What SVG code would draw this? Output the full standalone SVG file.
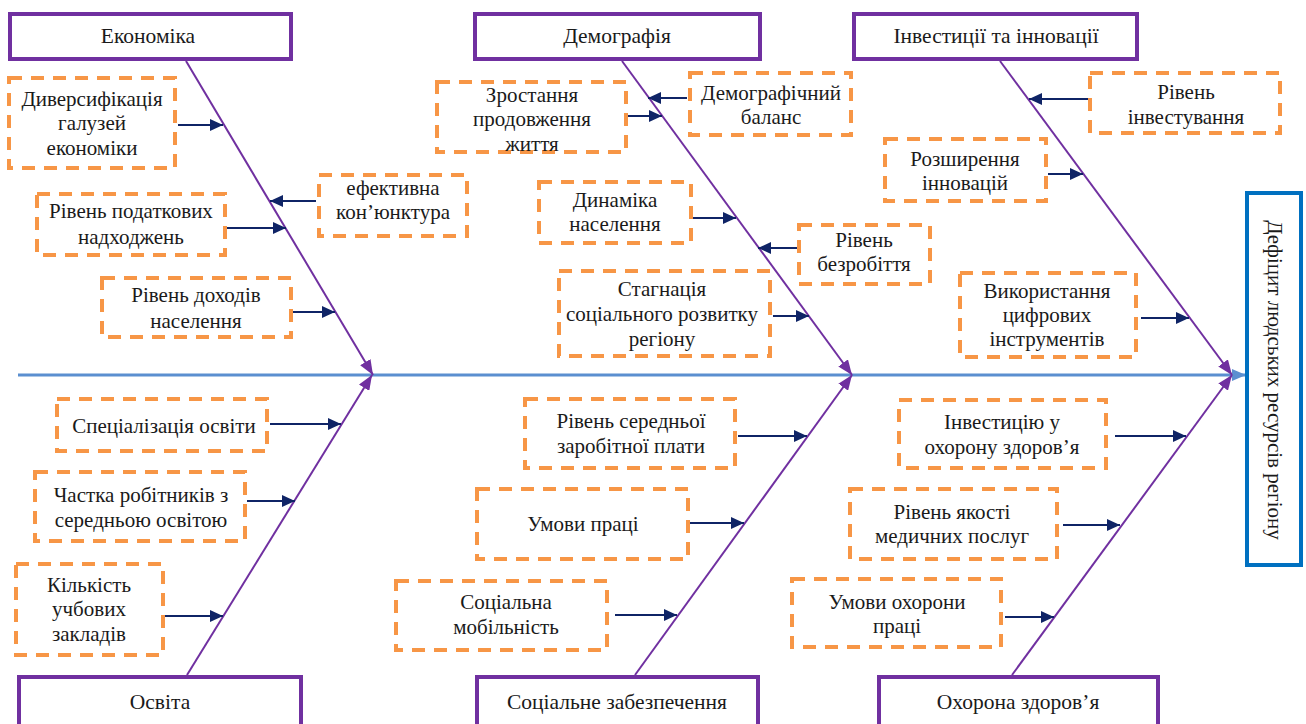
<svg xmlns="http://www.w3.org/2000/svg" width="1306" height="724" viewBox="0 0 1306 724">
<style>
.cat{fill:#fff;stroke:#7030a0;stroke-width:4}
.sub{fill:#fff;stroke:#f79646;stroke-width:4;stroke-dasharray:13 9}
.t{font-family:"Liberation Serif","DejaVu Serif","Noto Serif",serif;font-size:21px;fill:#1a1a1a;text-anchor:middle}
.c{font-size:21.5px}
.bone{stroke:#7030a0;stroke-width:2;fill:none}
.ar{stroke:#0f2466;stroke-width:2.2;fill:none}
</style>
<defs>
<marker id="ah" markerUnits="userSpaceOnUse" markerWidth="13" markerHeight="12" refX="13" refY="6" orient="auto"><path d="M0,0 L13,6 L0,12 Z" fill="#0f2466"/></marker>
<marker id="ph" markerUnits="userSpaceOnUse" markerWidth="15" markerHeight="12" refX="15" refY="6" orient="auto"><path d="M0,0 L15,6 L0,12 Z" fill="#7030a0"/></marker>
<marker id="bh" markerUnits="userSpaceOnUse" markerWidth="14" markerHeight="12" refX="14" refY="6" orient="auto"><path d="M0,0 L14,6 L0,12 Z" fill="#5b8fd0"/></marker>
</defs>
<rect width="1306" height="724" fill="#fff"/>

<g id="connectors">
<line x1="18" y1="375" x2="1246" y2="375" stroke="#5b8fd0" stroke-width="3" marker-end="url(#bh)"/>
<line class="bone" x1="186" y1="61" x2="373" y2="375" marker-end="url(#ph)"/>
<line class="bone" x1="622" y1="61" x2="852" y2="375" marker-end="url(#ph)"/>
<line class="bone" x1="1000" y1="61" x2="1232" y2="375" marker-end="url(#ph)"/>
<line class="bone" x1="187" y1="675" x2="372" y2="375" marker-end="url(#ph)"/>
<line class="bone" x1="635" y1="675" x2="852" y2="375" marker-end="url(#ph)"/>
<line class="bone" x1="1012" y1="675" x2="1232" y2="375" marker-end="url(#ph)"/>
<line class="ar" x1="178" y1="125" x2="223" y2="125" marker-end="url(#ah)"/>
<line class="ar" x1="227" y1="228" x2="286" y2="228" marker-end="url(#ah)"/>
<line class="ar" x1="293" y1="312" x2="335" y2="312" marker-end="url(#ah)"/>
<line class="ar" x1="316" y1="201" x2="270" y2="201" marker-end="url(#ah)"/>
<line class="ar" x1="628" y1="116" x2="662" y2="116" marker-end="url(#ah)"/>
<line class="ar" x1="687" y1="98" x2="648" y2="98" marker-end="url(#ah)"/>
<line class="ar" x1="693" y1="218" x2="736" y2="218" marker-end="url(#ah)"/>
<line class="ar" x1="797" y1="248" x2="758" y2="248" marker-end="url(#ah)"/>
<line class="ar" x1="773" y1="316" x2="809" y2="316" marker-end="url(#ah)"/>
<line class="ar" x1="1088" y1="99" x2="1029" y2="99" marker-end="url(#ah)"/>
<line class="ar" x1="1048" y1="174" x2="1083" y2="174" marker-end="url(#ah)"/>
<line class="ar" x1="1141" y1="318" x2="1189" y2="318" marker-end="url(#ah)"/>
<line class="ar" x1="270" y1="424" x2="341" y2="424" marker-end="url(#ah)"/>
<line class="ar" x1="247" y1="501" x2="295" y2="501" marker-end="url(#ah)"/>
<line class="ar" x1="165" y1="616" x2="223" y2="616" marker-end="url(#ah)"/>
<line class="ar" x1="738" y1="436" x2="807" y2="436" marker-end="url(#ah)"/>
<line class="ar" x1="690" y1="523" x2="744" y2="523" marker-end="url(#ah)"/>
<line class="ar" x1="615" y1="615" x2="677" y2="615" marker-end="url(#ah)"/>
<line class="ar" x1="1115" y1="436" x2="1186" y2="436" marker-end="url(#ah)"/>
<line class="ar" x1="1063" y1="525" x2="1120" y2="525" marker-end="url(#ah)"/>
<line class="ar" x1="1005" y1="617" x2="1054" y2="617" marker-end="url(#ah)"/>
</g>

<g id="economika"><rect class="cat" x="10" y="14" width="281" height="45"/><text class="t c" x="148" y="43">Економіка</text></g>
<g id="demografia"><rect class="cat" x="475" y="14" width="285" height="45"/><text class="t c" x="617" y="43">Демографія</text></g>
<g id="investytsii"><rect class="cat" x="854" y="14" width="283" height="45"/><text class="t c" x="996" y="43">Інвестиції та інновації</text></g>
<g id="osvita"><rect class="cat" x="19" y="677" width="282" height="60"/><text class="t c" x="160" y="709">Освіта</text></g>
<g id="sotsialne"><rect class="cat" x="477" y="677" width="281" height="60"/><text class="t c" x="617" y="709">Соціальне забезпечення</text></g>
<g id="okhorona"><rect class="cat" x="879" y="677" width="279" height="60"/><text class="t c" x="1018" y="709">Охорона здоров’я</text></g>

<g id="result"><rect x="1247" y="193" width="54" height="372" fill="#fff" stroke="#0070c0" stroke-width="4"/><text class="t" transform="translate(1275,380) rotate(90)" x="0" y="7">Дефіцит людських ресурсів регіону</text></g>

<g id="n1"><rect class="sub" x="9" y="78" width="166" height="90"/><text class="t" x="92"><tspan x="92" y="106">Диверсифікація</tspan><tspan x="92" y="130">галузей</tspan><tspan x="92" y="155">економіки</tspan></text></g>
<g id="n2"><rect class="sub" x="37" y="194" width="188" height="61"/><text class="t"><tspan x="131" y="218">Рівень податкових</tspan><tspan x="131" y="244">надходжень</tspan></text></g>
<g id="n3"><rect class="sub" x="102" y="278" width="189" height="59"/><text class="t"><tspan x="196" y="302">Рівень доходів</tspan><tspan x="196" y="328">населення</tspan></text></g>
<g id="n4"><rect class="sub" x="319" y="175" width="148" height="61"/><text class="t"><tspan x="393" y="195">ефективна</tspan><tspan x="393" y="219">кон’юнктура</tspan></text></g>
<g id="n5"><rect class="sub" x="437" y="82" width="189" height="70"/><text class="t"><tspan x="532" y="102">Зростання</tspan><tspan x="532" y="126">продовження</tspan><tspan x="532" y="151">життя</tspan></text></g>
<g id="n6"><rect class="sub" x="690" y="73" width="161" height="62"/><text class="t"><tspan x="771" y="100">Демографічний</tspan><tspan x="771" y="124">баланс</tspan></text></g>
<g id="n7"><rect class="sub" x="539" y="182" width="152" height="61"/><text class="t"><tspan x="615" y="207">Динаміка</tspan><tspan x="615" y="231">населення</tspan></text></g>
<g id="n8"><rect class="sub" x="799" y="225" width="131" height="59"/><text class="t"><tspan x="864" y="247">Рівень</tspan><tspan x="864" y="271">безробіття</tspan></text></g>
<g id="n9"><rect class="sub" x="559" y="271" width="211" height="85"/><text class="t"><tspan x="662" y="296">Стагнація</tspan><tspan x="662" y="321">соціального розвитку</tspan><tspan x="662" y="346">регіону</tspan></text></g>
<g id="n10"><rect class="sub" x="1090" y="73" width="190" height="60"/><text class="t"><tspan x="1186" y="99">Рівень</tspan><tspan x="1186" y="124">інвестування</tspan></text></g>
<g id="n11"><rect class="sub" x="885" y="139" width="161" height="62"/><text class="t"><tspan x="965" y="166">Розширення</tspan><tspan x="965" y="190">інновацій</tspan></text></g>
<g id="n12"><rect class="sub" x="960" y="273" width="176" height="84"/><text class="t"><tspan x="1047" y="298">Використання</tspan><tspan x="1047" y="322">цифрових</tspan><tspan x="1047" y="346">інструментів</tspan></text></g>
<g id="n13"><rect class="sub" x="57" y="399" width="210" height="52"/><text class="t" x="164" y="433">Спеціалізація освіти</text></g>
<g id="n14"><rect class="sub" x="35" y="472" width="210" height="69"/><text class="t"><tspan x="141" y="502">Частка робітників з</tspan><tspan x="141" y="527">середньою освітою</tspan></text></g>
<g id="n15"><rect class="sub" x="16" y="564" width="147" height="91"/><text class="t"><tspan x="89" y="592">Кількість</tspan><tspan x="89" y="616">учбових</tspan><tspan x="89" y="641">закладів</tspan></text></g>
<g id="n16"><rect class="sub" x="525" y="399" width="210" height="69"/><text class="t"><tspan x="631" y="428">Рівень середньої</tspan><tspan x="631" y="453">заробітної плати</tspan></text></g>
<g id="n17"><rect class="sub" x="477" y="489" width="211" height="70"/><text class="t" x="583" y="531">Умови праці</text></g>
<g id="n18"><rect class="sub" x="396" y="581" width="211" height="69"/><text class="t"><tspan x="506" y="609">Соціальна</tspan><tspan x="506" y="634">мобільність</tspan></text></g>
<g id="n19"><rect class="sub" x="899" y="400" width="207" height="68"/><text class="t"><tspan x="1002" y="429">Інвестицію у</tspan><tspan x="1002" y="454">охорону здоров’я</tspan></text></g>
<g id="n20"><rect class="sub" x="850" y="489" width="207" height="70"/><text class="t"><tspan x="952" y="519">Рівень якості</tspan><tspan x="952" y="543">медичних послуг</tspan></text></g>
<g id="n21"><rect class="sub" x="792" y="579" width="209" height="68"/><text class="t"><tspan x="897" y="609">Умови охорони</tspan><tspan x="897" y="633">праці</tspan></text></g>
</svg>
